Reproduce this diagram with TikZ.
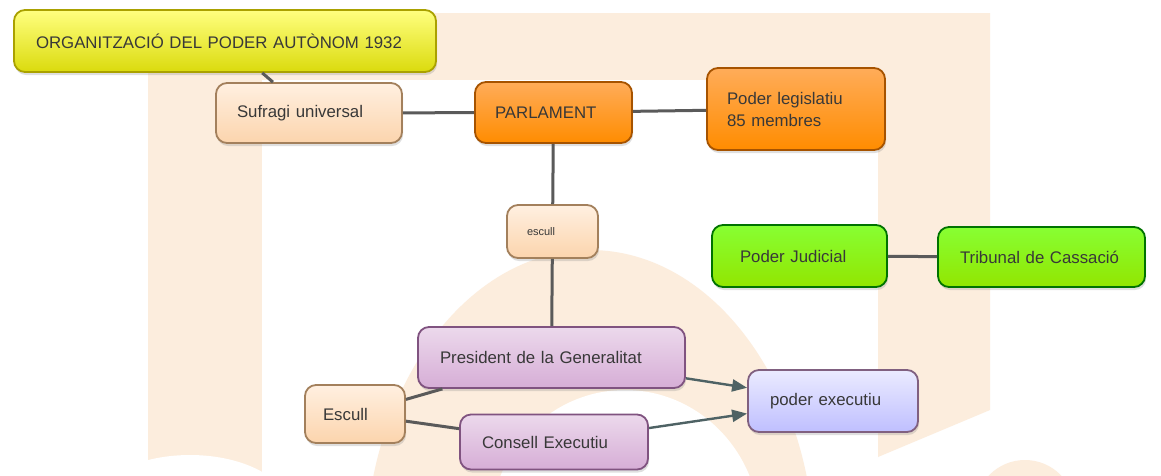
\documentclass[tikz,border=0pt]{standalone}
\usepackage{fontspec}
\setmainfont{Liberation Sans}
\usetikzlibrary{arrows.meta,shadows}

\definecolor{wmark}{HTML}{FCEDDD}
\definecolor{txtgray}{HTML}{383838}
\definecolor{linegray}{HTML}{5A5A5A}
\definecolor{slate}{HTML}{4E6264}

\begin{document}
\begin{tikzpicture}[x=1pt, y=-1pt,
    box/.style={rounded corners=11pt, line width=1.8pt, align=left, inner ysep=0pt,
        text=txtgray, font=\fontsize{16.8}{22}\selectfont,
        drop shadow={shadow xshift=1pt, shadow yshift=-3pt, opacity=0.25}},
    yellowbox/.style={box, top color=yellow!50!white, bottom color=yellow!85!black!95!white, draw=olive!75!yellow},
    peachbox/.style={box, top color=orange!12!white, bottom color=orange!30!white!95!brown, draw=brown!55!gray},
    orangebox/.style={box, top color=orange!65!white, bottom color=orange!90!yellow, draw=orange!65!black},
    greenbox/.style={box, top color=green!45!lime!80!white, bottom color=lime!85!green!90!black, draw=green!45!black},
    purplebox/.style={box, top color=violet!15!white, bottom color=violet!32!white, draw=violet!35!gray},
    bluebox/.style={box, top color=blue!8!white, bottom color=blue!25!white, draw=violet!25!gray},
    link/.style={line width=3pt, draw=linegray},
    arrowlink/.style={line width=2.4pt, draw=slate, -{Triangle[length=15pt, width=12pt]}}]

    % Page and watermark in the background
    \useasboundingbox (0,0) rectangle (1161,475);
    \begin{scope}
        \clip (0,0) rectangle (1161,475);
        \fill[white] (0,0) rectangle (1161,475);
        \fill[wmark] (148,13) rectangle (990,80);
        \fill[wmark] (148,13) rectangle (262,475);
        \fill[wmark] (878,13) -- (990,13) -- (990,410) -- (878,457) -- cycle;
        \fill[wmark] (590,560) ellipse [x radius=225pt, y radius=310pt];
        \fill[white] (625,530) ellipse [x radius=135pt, y radius=140pt];
        \fill[white] (190,510) ellipse [x radius=100pt, y radius=55pt];
        \fill[wmark] (1025,510) circle [radius=50pt];
    \end{scope}

    % Top: title and parliament
    \node[yellowbox, minimum width=422pt, minimum height=62pt, inner xsep=22pt, text width=378pt]
        (org) at (225,41) {ORGANITZACIÓ DEL PODER AUTÒNOM 1932};
    \node[peachbox, minimum width=186pt, minimum height=60pt, inner xsep=21pt, text width=144pt]
        (sufragi) at (309,113) {Sufragi universal};
    \node[orangebox, minimum width=157pt, minimum height=61pt, inner xsep=20pt, text width=117pt]
        (parlament) at (553.5,112.5) {PARLAMENT};
    \node[orangebox, minimum width=178pt, minimum height=82pt, inner xsep=20pt, text width=138pt]
        (legislatiu) at (796,109) {Poder legislatiu\\85 membres};
    \node[peachbox, minimum width=91pt, minimum height=53pt, inner xsep=20pt, text width=51pt,
        font=\fontsize{11}{13}\selectfont]
        (escullA) at (552.5,231.5) {escull};

    % Judicial power
    \node[greenbox, minimum width=175pt, minimum height=62pt, inner xsep=28pt, text width=119pt]
        (judicial) at (799.5,256) {Poder Judicial};
    \node[greenbox, minimum width=207pt, minimum height=60pt, inner xsep=22pt, text width=163pt]
        (tribunal) at (1041.5,257) {Tribunal de Cassació};

    % Executive power
    \node[purplebox, minimum width=267pt, minimum height=61pt, inner xsep=22pt, text width=223pt]
        (president) at (551.5,357.5) {President de la Generalitat};
    \node[peachbox, minimum width=100pt, minimum height=58pt, inner xsep=18pt, text width=64pt]
        (escullB) at (355,414) {Escull};
    \node[purplebox, minimum width=188pt, minimum height=55pt, inner xsep=22pt, text width=144pt]
        (consell) at (554,442) {Consell Executiu};
    \node[bluebox, minimum width=170pt, minimum height=62pt, inner xsep=22pt, text width=126pt]
        (executiu) at (833,401) {poder executiu};

    % Connectors
    \draw[link] (org) -- (sufragi);
    \draw[link] (sufragi) -- (parlament);
    \draw[link] (parlament) -- (legislatiu);
    \draw[link] (parlament) -- (escullA);
    \draw[link] (escullA) -- (president);
    \draw[link] (judicial) -- (tribunal);
    \draw[link] (escullB) -- (president);
    \draw[link] (escullB) -- (consell);
    \foreach \src in {president,consell}
    {
        \draw[arrowlink] (\src) -- (executiu);
    }
\end{tikzpicture}
\end{document}
